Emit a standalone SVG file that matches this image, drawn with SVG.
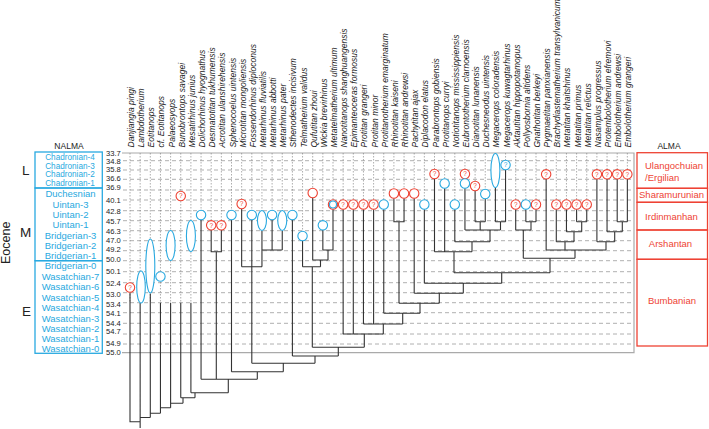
<svg xmlns="http://www.w3.org/2000/svg" width="709" height="429" viewBox="0 0 709 429">
<style>
.sp{font-family:"Liberation Sans",Arial,sans-serif;font-size:8.5px;font-style:italic;fill:#222}
.na{font-family:"Liberation Sans",Arial,sans-serif;font-size:9.5px;fill:#29a9e0;text-anchor:middle}
.nc{font-family:"Liberation Sans",Arial,sans-serif;font-size:8.2px;fill:#29a9e0;text-anchor:middle}
.al{font-family:"Liberation Sans",Arial,sans-serif;font-size:9.5px;fill:#ee4334}
.tm{font-family:"Liberation Sans",Arial,sans-serif;font-size:7.6px;fill:#222}
.hd{font-family:"Liberation Sans",Arial,sans-serif;font-size:8.5px;fill:#222;text-anchor:middle}
.ep{font-family:"Liberation Sans",Arial,sans-serif;font-size:13.5px;fill:#222}
.eo{font-family:"Liberation Sans",Arial,sans-serif;font-size:12.5px;fill:#222}
.q{font-family:"Liberation Sans",Arial,sans-serif;font-size:6.5px;fill:#ee4334;text-anchor:middle}
.qb{font-family:"Liberation Sans",Arial,sans-serif;font-size:6.5px;fill:#29a9e0;text-anchor:middle}
.rc{fill:#fff;stroke:#ee4334;stroke-width:1.1}
.bc{fill:#fff;stroke:#29a9e0;stroke-width:1.1}
.nb{fill:none;stroke:#29a9e0;stroke-width:1.3}
.ab{fill:none;stroke:#ee4334;stroke-width:1.3}
.gh{stroke:#b0b0b0;stroke-width:1;stroke-dasharray:4 3;fill:none}
.gv{stroke:#777;stroke-width:0.6;stroke-dasharray:1.5 1.5;fill:none}
.gb{stroke:#aaa;stroke-width:1.2;fill:none}
.tr{stroke:#333;stroke-width:1.1;fill:none}
</style>

<!-- left headings -->
<text class="eo" transform="translate(10,264) rotate(-90)">Eocene</text>
<text class="ep" x="22" y="175">L</text>
<text class="ep" x="20" y="237">M</text>
<text class="ep" x="22" y="316">E</text>
<text class="hd" x="69" y="148.5">NALMA</text>
<text class="hd" x="669" y="148.5">ALMA</text>

<!-- grid -->
<g id="grid">
<path class="gh" d="M123,160.7H634M123,170H634M123,179.3H634M123,190H634M123,200H634M123,210.7H634M123,220.7H634M123,230.7H634M123,240.7H634M123,250.7H634M123,260.7H634M123,271.7H634M123,282.7H634M123,292.7H634M123,302.7H634M123,312.7H634M123,323.3H634M123,334H634M123,344H634"/>
<path class="gb" d="M122,153H634V352.7H122"/>
<path class="gv" d="M130,153V302.7M140.15,153V302.7M150.3,153V302.7M160.45,153V302.7M170.6,153V302.7M180.75,153V302.7M190.9,153V302.7M201.05,153V215M211.2,153V225M221.35,153V225M231.5,153V215M241.65,153V204M251.8,153V215M261.95,153V220M272.1,153V215M282.25,153V220M292.4,153V215M302.55,153V236M312.7,153V193M322.85,153V225M333,153V204M343.15,153V204M353.3,153V204M363.45,153V204M373.6,153V204M383.75,153V204M393.9,153V193M404.05,153V193M414.2,153V193M424.35,153V204M434.5,153V174M444.65,153V183M454.8,153V204M464.95,153V174M475.1,153V186M485.25,153V194M495.4,153V170M505.55,153V165M515.7,153V204M525.85,153V204M536,153V204M546.15,153V174M556.3,153V204M566.45,153V204M576.6,153V204M586.75,153V204M596.9,153V174M607.05,153V174M617.2,153V174M627.35,153V174"/>
</g>

<!-- time scale -->
<g id="time">
<text class="tm" x="106" y="156">33.7</text>
<text class="tm" x="106" y="164">34.8</text>
<text class="tm" x="106" y="172">35.8</text>
<text class="tm" x="106" y="180.6">36.6</text>
<text class="tm" x="106" y="190.2">36.9</text>
<text class="tm" x="106" y="202.9">40.1</text>
<text class="tm" x="106" y="213.6">42.8</text>
<text class="tm" x="106" y="224.4">45.7</text>
<text class="tm" x="106" y="234.2">46.3</text>
<text class="tm" x="106" y="243">47.0</text>
<text class="tm" x="106" y="252.2">49.2</text>
<text class="tm" x="106" y="262.2">50.0</text>
<text class="tm" x="106" y="273.9">50.1</text>
<text class="tm" x="106" y="285.6">52.4</text>
<text class="tm" x="106" y="296.6">53.0</text>
<text class="tm" x="106" y="306.8">53.4</text>
<text class="tm" x="106" y="316">54.1</text>
<text class="tm" x="106" y="325.5">54.4</text>
<text class="tm" x="106" y="334.2">54.7</text>
<text class="tm" x="106" y="346">54.9</text>
<text class="tm" x="106" y="354.6">55.0</text>
</g>

<!-- NALMA -->
<g id="nalma-late">
<rect class="nb" x="35" y="152" width="67.3" height="36"/>
<text class="nc" x="70" y="160.4">Chadronian-4</text>
<text class="nc" x="70" y="168.9">Chadronian-3</text>
<text class="nc" x="70" y="177.4">Chadronian-2</text>
<text class="nc" x="70" y="185.9">Chadronian-1</text>
</g>
<g id="nalma-middle">
<rect class="nb" x="35" y="188" width="67.3" height="72.7"/>
<text class="na" x="70.5" y="197.3">Duchesnian</text>
<text class="na" x="70.5" y="207.8">Uintan-3</text>
<text class="na" x="70.5" y="218">Uintan-2</text>
<text class="na" x="70.5" y="228.3">Uintan-1</text>
<text class="na" x="70.5" y="239">Bridgerian-3</text>
<text class="na" x="70.5" y="249.2">Bridgerian-2</text>
<text class="na" x="70.5" y="259">Bridgerian-1</text>
</g>
<g id="nalma-early">
<rect class="nb" x="35" y="260.7" width="67.3" height="92.6"/>
<text class="na" x="70.5" y="269.2">Bridgerian-0</text>
<text class="na" x="70.5" y="279.7">Wasatchian-7</text>
<text class="na" x="70.5" y="290.3">Wasatchian-6</text>
<text class="na" x="70.5" y="300.8">Wasatchian-5</text>
<text class="na" x="70.5" y="311.3">Wasatchian-4</text>
<text class="na" x="70.5" y="321.5">Wasatchian-3</text>
<text class="na" x="70.5" y="331.7">Wasatchian-2</text>
<text class="na" x="70.5" y="342">Wasatchian-1</text>
<text class="na" x="70.5" y="351.6">Wasatchian-0</text>
</g>

<!-- ALMA -->
<g id="alma-ulangochuian"><rect class="ab" x="637" y="152.7" width="70.5" height="35.6"/><text class="al" x="645" y="169.4">Ulangochuian</text><text class="al" x="645" y="180.7">/Ergilian</text></g>
<g id="alma-sharamurunian"><rect class="ab" x="637" y="188.3" width="70.5" height="14"/><text class="al" x="671.5" y="198.4" text-anchor="middle">Sharamurunian</text></g>
<g id="alma-irdinmanhan"><rect class="ab" x="637" y="202.3" width="70.5" height="27.7"/><text class="al" x="671.5" y="220.1" text-anchor="middle">Irdinmanhan</text></g>
<g id="alma-arshantan"><rect class="ab" x="637" y="230" width="70.5" height="29.3"/><text class="al" x="670.5" y="247.4" text-anchor="middle">Arshantan</text></g>
<g id="alma-bumbanian"><rect class="ab" x="637" y="259.3" width="70.5" height="86.7"/><text class="al" x="672" y="304" text-anchor="middle">Bumbanian</text></g>

<!-- connectors (cladogram) -->
<g id="connectors">
<path class="tr" d="
M130,292.5V421.7H140.15 M140.15,303V428 M140.15,417.5H150.3 M150.3,293.5V417.5
M150.3,413.3H160.45 M160.45,302.7V413.3 M160.45,407.7H170.6 M170.6,302.7V407.7
M170.6,403.3H183 M183,397.7V403.3 M180.75,302.7V397.7 M180.75,397.7H195 M195,392.7V397.7
M190.9,302.7V392.7 M190.9,392.7H228.3 M228.3,379.3V392.7 M201.05,379.3H257.3
M201.05,219.7V379.3 M211.2,230V251.7H221.35V230 M216.3,251.7V379.3
M257.3,371.7V379.3 M231.5,371.7H283.3 M231.5,219.7V371.7
M283.3,363.3V371.7 M251.8,363.3H315 M251.8,219.7V363.3 M241.65,266.7H262 M241.65,208.7V266.7
M261.95,230.5V266.7 M261.95,250H282.25 M272.1,219.7V250 M282.25,230.5V250
M315,356V363.3 M292.4,356H338.3 M292.4,219.7V356 M338.3,347.3V356 M312.3,347.3H364.3
M312.3,266.7V347.3 M302.55,266.7H320.5 M302.55,240.7V266.7 M312.7,197.7V260 M312.7,260H328 M320.5,260V266.7
M322.85,230V250 M333,209.2V250 M322.85,250H333 M328,250V260
M364.3,334V347.3 M343.15,334H383.3 M343.15,209.2V334 M353.3,209.2V334
M383.3,324V334 M363.45,324H402.7 M363.45,209.2V324 M373.6,209.2V324
M402.7,313.3V324 M383.75,313.3H420 M383.75,209.2V313.3
M420,303.3V313.3 M399,303.3H439.3 M393.9,198.2V221.7H404.05V198.2 M399,221.7V303.3
M439.3,293.3V303.3 M414.2,293.3H463.3 M414.2,198.2V293.3
M463.3,283.3V293.3 M424.35,283.3H501.7 M424.35,209.2V283.3
M501.7,272.7V283.3 M454,272.7H550
M434.5,178.7V251.7 M444.65,188.2V251.7 M434.5,251.7H472 M454,251.7V272.7
M472,241.7V251.7 M454.8,241.7H490 M454.8,209.2V241.7
M490,230V241.7 M464.95,230H500.5 M464.95,188.2V230
M475.1,190.7V221.7 M485.25,198.7V221.7 M475.1,221.7H485.25 M480.2,221.7V230
M495.4,187.5V221.7 M505.55,169.7V221.7 M495.4,221.7H505.55 M500.5,221.7V230
M550,258.3V272.7 M523.3,258.3H575 M523.3,230V258.3 M515.7,230H531 M515.7,209.2V230
M525.85,209.2V221.7 M536,209.2V221.7 M525.85,221.7H536 M531,221.7V230
M575,250V258.3 M546.15,250H606 M546.15,179V250
M576.6,209.2V221.7 M586.75,209.2V221.7 M576.6,221.7H586.75 M581.7,221.7V231.7
M566.45,231.7H581.7 M566.45,209.2V231.7 M574,231.7V241.7 M556.3,241.7H574 M556.3,209.2V241.7 M565,241.7V250
M617.2,179V221.7 M627.35,179V221.7 M617.2,221.7H627.35 M622.3,221.7V231.7
M607.05,231.7H622.3 M607.05,179V231.7 M614.7,231.7V241.7 M596.9,241.7H614.7 M596.9,179V241.7 M606,241.7V250
"/>
</g>

<!-- species nodes -->
<g id="sp01"><text class="sp" transform="translate(134,147.5) rotate(-90)">Danjiangia pingi</text><circle class="rc" cx="130" cy="287.5" r="4.7"/><text class="q" x="130" y="289.8">?</text></g>
<g id="sp02"><text class="sp" transform="translate(144.15,147.5) rotate(-90)">Lambdotherium</text><ellipse class="bc" cx="141" cy="287" rx="4.3" ry="16"/></g>
<g id="sp03"><text class="sp" transform="translate(154.3,147.5) rotate(-90)">Eotitanops</text><ellipse class="bc" cx="150.3" cy="266" rx="4.5" ry="27"/></g>
<g id="sp04"><text class="sp" transform="translate(164.45,147.5) rotate(-90)">cf. Eotitanops</text><circle class="bc" cx="160.45" cy="276.5" r="4.7"/></g>
<g id="sp05"><text class="sp" transform="translate(174.6,147.5) rotate(-90)">Palaeosyops</text><ellipse class="bc" cx="170.6" cy="245.5" rx="4.5" ry="15"/></g>
<g id="sp06"><text class="sp" transform="translate(184.75,147.5) rotate(-90)">Bunobrontops savagei</text><circle class="rc" cx="180.75" cy="196" r="4.7"/><text class="q" x="180.75" y="198.3">?</text></g>
<g id="sp07"><text class="sp" transform="translate(194.9,147.5) rotate(-90)">Mesatirhinus junius</text><ellipse class="bc" cx="190.9" cy="236" rx="4.5" ry="15.5"/></g>
<g id="sp08"><text class="sp" transform="translate(205.05,147.5) rotate(-90)">Dolichorhinus hyognathus</text><circle class="bc" cx="201.05" cy="215" r="4.7"/></g>
<g id="sp09"><text class="sp" transform="translate(215.2,147.5) rotate(-90)">Desmatotitan tukhumensis</text><circle class="rc" cx="211.2" cy="225.3" r="4.7"/><text class="q" x="211.2" y="227.6">?</text></g>
<g id="sp10"><text class="sp" transform="translate(225.35,147.5) rotate(-90)">Acrotitan ulanshirehensis</text><circle class="rc" cx="221.35" cy="225.3" r="4.7"/><text class="q" x="221.35" y="227.6">?</text></g>
<g id="sp11"><text class="sp" transform="translate(235.5,147.5) rotate(-90)">Sphenocoelus uintensis</text><circle class="bc" cx="231.5" cy="215" r="4.7"/></g>
<g id="sp12"><text class="sp" transform="translate(245.65,147.5) rotate(-90)">Microtitan mongoliensis</text><circle class="rc" cx="241.65" cy="204" r="4.7"/><text class="q" x="241.65" y="206.3">?</text></g>
<g id="sp13"><text class="sp" transform="translate(255.8,147.5) rotate(-90)">Fossendorhinus diploconus</text><circle class="bc" cx="251.8" cy="215" r="4.7"/></g>
<g id="sp14"><text class="sp" transform="translate(265.95,147.5) rotate(-90)">Metarhinus fluviatilis</text><ellipse class="bc" cx="261.95" cy="220.5" rx="4.5" ry="10"/></g>
<g id="sp15"><text class="sp" transform="translate(276.1,147.5) rotate(-90)">Metarhinus abbotti</text><circle class="bc" cx="272.1" cy="215" r="4.7"/></g>
<g id="sp16"><text class="sp" transform="translate(286.25,147.5) rotate(-90)">Metarhinus pater</text><ellipse class="bc" cx="282.25" cy="220.5" rx="4.5" ry="10"/></g>
<g id="sp17"><text class="sp" transform="translate(296.4,147.5) rotate(-90)">Sthenodectes incisivum</text><circle class="bc" cx="292.4" cy="215" r="4.7"/></g>
<g id="sp18"><text class="sp" transform="translate(306.55,147.5) rotate(-90)">Telmatherium validus</text><circle class="bc" cx="302.55" cy="236" r="4.7"/></g>
<g id="sp19"><text class="sp" transform="translate(316.7,147.5) rotate(-90)">Qufutitan zhoui</text><circle class="rc" cx="312.7" cy="193" r="4.7"/></g>
<g id="sp20"><text class="sp" transform="translate(326.85,147.5) rotate(-90)">Wickia brevirhinus</text><circle class="bc" cx="322.85" cy="225.3" r="4.7"/></g>
<g id="sp21"><text class="sp" transform="translate(337,147.5) rotate(-90)">Metatelmatherium ultimum</text><circle class="rc" cx="333" cy="204.5" r="4.7"/><circle class="bc" cx="333" cy="204.5" r="3.5"/></g>
<g id="sp22"><text class="sp" transform="translate(347.15,147.5) rotate(-90)">Nanotitanops shanghuangensis</text><circle class="rc" cx="343.15" cy="204.5" r="4.7"/><text class="q" x="343.15" y="206.8">?</text></g>
<g id="sp23"><text class="sp" transform="translate(357.3,147.5) rotate(-90)">Epimanteoceras formosus</text><circle class="rc" cx="353.3" cy="204.5" r="4.7"/><text class="q" x="353.3" y="206.8">?</text></g>
<g id="sp24"><text class="sp" transform="translate(367.45,147.5) rotate(-90)">Protitan grangeri</text><circle class="rc" cx="363.45" cy="204.5" r="4.7"/><text class="q" x="363.45" y="206.8">?</text></g>
<g id="sp25"><text class="sp" transform="translate(377.6,147.5) rotate(-90)">Protitan minor</text><circle class="rc" cx="373.6" cy="204.5" r="4.7"/><text class="q" x="373.6" y="206.8">?</text></g>
<g id="sp26"><text class="sp" transform="translate(387.75,147.5) rotate(-90)">Protitanotherium emarginatum</text><circle class="bc" cx="383.75" cy="204.5" r="4.7"/></g>
<g id="sp27"><text class="sp" transform="translate(397.9,147.5) rotate(-90)">Rhinotitan kaiseni</text><circle class="rc" cx="393.9" cy="193.5" r="4.7"/></g>
<g id="sp28"><text class="sp" transform="translate(408.05,147.5) rotate(-90)">Rhinotitan andrewsi</text><circle class="rc" cx="404.05" cy="193.5" r="4.7"/></g>
<g id="sp29"><text class="sp" transform="translate(418.2,147.5) rotate(-90)">Pachytitan ajax</text><circle class="rc" cx="414.2" cy="193.5" r="4.7"/></g>
<g id="sp30"><text class="sp" transform="translate(428.35,147.5) rotate(-90)">Diplacodon elatus</text><circle class="bc" cx="424.35" cy="204.5" r="4.7"/></g>
<g id="sp31"><text class="sp" transform="translate(438.5,147.5) rotate(-90)">Parabrontops gobiensis</text><circle class="rc" cx="434.5" cy="174" r="4.7"/><text class="q" x="434.5" y="176.3">?</text></g>
<g id="sp32"><text class="sp" transform="translate(448.65,147.5) rotate(-90)">Protitanops curryi</text><circle class="bc" cx="444.65" cy="183.5" r="4.7"/></g>
<g id="sp33"><text class="sp" transform="translate(458.8,147.5) rotate(-90)">Notiotitanops mississippiensis</text><circle class="bc" cx="454.8" cy="204.5" r="4.7"/></g>
<g id="sp34"><text class="sp" transform="translate(468.95,147.5) rotate(-90)">Eubrontotherium clarnoensis</text><circle class="rc" cx="464.95" cy="174" r="4.7"/><text class="q" x="464.95" y="176.3">?</text><circle class="bc" cx="464.95" cy="183.5" r="4.7"/></g>
<g id="sp35"><text class="sp" transform="translate(479.1,147.5) rotate(-90)">Dianotitan lunanensis</text><circle class="rc" cx="475.1" cy="186" r="4.7"/><text class="q" x="475.1" y="188.3">?</text></g>
<g id="sp36"><text class="sp" transform="translate(489.25,147.5) rotate(-90)">Duchesneodus uintensis</text><circle class="bc" cx="485.25" cy="194" r="4.7"/></g>
<g id="sp37"><text class="sp" transform="translate(499.4,147.5) rotate(-90)">Megacerops coloradensis</text><ellipse class="bc" cx="495.4" cy="170.5" rx="4.5" ry="17"/></g>
<g id="sp38"><text class="sp" transform="translate(509.55,147.5) rotate(-90)">Megacerops kuwagtarhinus</text><circle class="bc" cx="505.55" cy="165" r="4.7"/><text class="qb" x="505.55" y="167.3">?</text></g>
<g id="sp39"><text class="sp" transform="translate(519.7,147.5) rotate(-90)">Aktautitan hippopotamopus</text><circle class="rc" cx="515.7" cy="204.5" r="4.7"/><text class="q" x="515.7" y="206.8">?</text></g>
<g id="sp40"><text class="sp" transform="translate(529.85,147.5) rotate(-90)">Pollyosbornia altidens</text><circle class="bc" cx="525.85" cy="204.5" r="4.7"/></g>
<g id="sp41"><text class="sp" transform="translate(540,147.5) rotate(-90)">Gnathotitan berkeyi</text><circle class="rc" cx="536" cy="204.5" r="4.7"/><text class="q" x="536" y="206.8">?</text></g>
<g id="sp42"><text class="sp" transform="translate(550.15,147.5) rotate(-90)">Pygmaetitan panxianensis</text><circle class="rc" cx="546.15" cy="174.3" r="4.7"/><text class="q" x="546.15" y="176.6">?</text></g>
<g id="sp43"><text class="sp" transform="translate(560.3,147.5) rotate(-90)">Brachydiastematherium transylvanicum</text><circle class="rc" cx="556.3" cy="204.5" r="4.7"/><text class="q" x="556.3" y="206.8">?</text></g>
<g id="sp44"><text class="sp" transform="translate(570.45,147.5) rotate(-90)">Metatitan khaitshinus</text><circle class="rc" cx="566.45" cy="204.5" r="4.7"/><text class="q" x="566.45" y="206.8">?</text></g>
<g id="sp45"><text class="sp" transform="translate(580.6,147.5) rotate(-90)">Metatitan primus</text><circle class="rc" cx="576.6" cy="204.5" r="4.7"/><text class="q" x="576.6" y="206.8">?</text></g>
<g id="sp46"><text class="sp" transform="translate(590.75,147.5) rotate(-90)">Metatitan relictus</text><circle class="rc" cx="586.75" cy="204.5" r="4.7"/><text class="q" x="586.75" y="206.8">?</text></g>
<g id="sp47"><text class="sp" transform="translate(600.9,147.5) rotate(-90)">Nasamplus progressus</text><circle class="rc" cx="596.9" cy="174.3" r="4.7"/><text class="q" x="596.9" y="176.6">?</text></g>
<g id="sp48"><text class="sp" transform="translate(611.05,147.5) rotate(-90)">Protembolotherium efremovi</text><circle class="rc" cx="607.05" cy="174.3" r="4.7"/><text class="q" x="607.05" y="176.6">?</text></g>
<g id="sp49"><text class="sp" transform="translate(621.2,147.5) rotate(-90)">Embolotherium andrewsi</text><circle class="rc" cx="617.2" cy="174.3" r="4.7"/><text class="q" x="617.2" y="176.6">?</text></g>
<g id="sp50"><text class="sp" transform="translate(631.35,147.5) rotate(-90)">Embolotherium grangeri</text><circle class="rc" cx="627.35" cy="174.3" r="4.7"/><text class="q" x="627.35" y="176.6">?</text></g>
</svg>
